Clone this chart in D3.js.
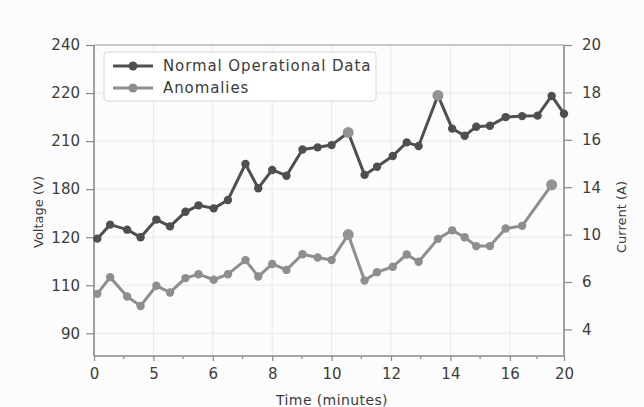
<!DOCTYPE html>
<html><head><meta charset="utf-8">
<script src="https://cdn.jsdelivr.net/npm/d3@7"></script>
<style>
html,body{margin:0;padding:0;background:#fcfcfc;}
svg{display:block;font-family:"DejaVu Sans",sans-serif;}
</style></head>
<body><svg id="c" width="644" height="407"></svg>
<script>
// ---- data ----
const xTickLabels = [0,5,6,8,10,12,14,16,20];
const voltTickLabels = [90,110,120,180,210,220,240];
const currTickLabels = [4,6,10,14,16,18,20];

const timeNormal = [0.28,1.36,2.79,3.92,5.05,5.28,5.54,5.76,6.03,6.51,7.10,7.53,8.00,8.48,9.02,9.53,10.00,10.56,11.11,11.53,12.06,12.53,12.93,13.58,14.06,14.48,14.87,15.33,15.86,16.91,18.05,19.09,20.00];
const voltage    = [119.7,135.7,129.4,120.0,142.0,133.5,151.7,159.8,156.0,166.5,195.7,180.6,192.0,188.4,204.8,206.1,207.5,211.8,188.9,194.0,200.7,209.2,206.9,219.5,212.6,211.1,213.0,213.2,215.0,215.2,215.3,219.4,215.7];

const timeAnom = [0.28,1.36,2.79,3.92,5.05,5.28,5.54,5.76,6.03,6.51,7.10,7.53,8.00,8.48,9.02,9.53,10.00,10.56,11.11,11.53,12.06,12.53,12.93,13.58,14.06,14.48,14.87,15.33,15.86,16.91,19.09];
const current  = [5.50,6.41,5.39,4.99,5.84,5.56,6.33,6.66,6.19,6.66,7.85,6.46,7.52,7.02,8.34,8.07,7.85,10.00,6.13,6.83,7.29,8.32,7.71,9.64,10.36,9.78,9.03,9.03,10.51,10.74,14.10];

const highlightNormal = [10.56, 13.58];
const highlightAnom = [10.56, 19.09];

const seriesNames = ["Normal Operational Data","Anomalies"];

// ---- layout ----
const L = 94, R = 564, T = 45, B = 356;
const yLeftBottomTick = 333.3, yRightBottomTick = 329.4;
const darkC = "#4f4f4f", greyC = "#8e8e8e", hiC = "#939393";

const svg = d3.select("#c");

const xStep = 59.4;
const x = d3.scaleLinear().domain(xTickLabels)
  .range(xTickLabels.map((d,i)=> i < xTickLabels.length-1 ? L + i*xStep : R));
const yL = d3.scaleLinear().domain(voltTickLabels)
  .range(voltTickLabels.map((d,i)=> yLeftBottomTick - i*(yLeftBottomTick-T)/(voltTickLabels.length-1)));
const yR = d3.scaleLinear().domain(currTickLabels)
  .range(currTickLabels.map((d,i)=> yRightBottomTick - i*(yRightBottomTick-T)/(currTickLabels.length-1)));

// gridlines
const grid = svg.append("g").attr("stroke","#e9e9e9").attr("stroke-width",1);
xTickLabels.slice(1,-1).forEach(t=>{
  grid.append("line").attr("x1",x(t)).attr("x2",x(t)).attr("y1",T).attr("y2",B);
});
voltTickLabels.forEach(t=>{
  grid.append("line").attr("x1",L).attr("x2",R).attr("y1",yL(t)).attr("y2",yL(t));
});

// frame top
svg.append("line").attr("x1",L).attr("x2",R).attr("y1",T).attr("y2",T)
  .attr("stroke","#a0a0a0").attr("stroke-width",1.2);

const axisColor = "#8a8a8a";
const textColor = "#3c3c3c";

// left axis
const gL = svg.append("g").attr("transform",`translate(${L},0)`)
  .call(d3.axisLeft(yL).tickValues(voltTickLabels).tickSize(8).tickPadding(6).tickSizeOuter(0));
// bottom axis
const gB = svg.append("g").attr("transform",`translate(0,${B})`)
  .call(d3.axisBottom(x).tickValues(xTickLabels).tickSize(5).tickPadding(7).tickSizeOuter(0));
// minor ticks bottom
const minor = [];
for(let i=0;i<xTickLabels.length-1;i++) minor.push((x(xTickLabels[i])+x(xTickLabels[i+1]))/2);
svg.append("g").selectAll("line").data(minor).join("line")
  .attr("x1",d=>d).attr("x2",d=>d).attr("y1",B).attr("y2",B+3)
  .attr("stroke",axisColor).attr("stroke-width",1.2);
// right axis
const gR = svg.append("g").attr("transform",`translate(${R},0)`)
  .call(d3.axisRight(yR).tickValues(currTickLabels).tickSize(8).tickPadding(10).tickSizeOuter(0));

[gL,gB,gR].forEach(g=>{
  g.select(".domain").attr("stroke",axisColor).attr("stroke-width",1.6);
  g.selectAll(".tick line").attr("stroke",axisColor).attr("stroke-width",1.2);
  g.selectAll(".tick text").attr("fill",textColor).style("font-size","15px")
   .style("font-family","'DejaVu Sans',sans-serif");
});
// extend vertical domains to bottom/top
gL.select(".domain").attr("d",`M0,${T}V${B}`);
gR.select(".domain").attr("d",`M0,${T}V${B}`);
gB.select(".domain").attr("d",`M${L},0H${R}`);

// axis titles
svg.append("text").attr("x",332).attr("y",405).attr("text-anchor","middle")
  .attr("fill",textColor).style("font-size","14px").style("letter-spacing","0.4px").text("Time (minutes)");
svg.append("text").attr("transform","translate(43,212) rotate(-90)").attr("text-anchor","middle")
  .attr("fill",textColor).style("font-size","13px").text("Voltage (V)");
svg.append("text").attr("transform","translate(626,217) rotate(-90)").attr("text-anchor","middle")
  .attr("fill",textColor).style("font-size","13px").text("Current (A)");

// lines
const normal = timeNormal.map((t,i)=>({t, v:voltage[i]}));
const anom = timeAnom.map((t,i)=>({t, v:current[i]}));

svg.append("path").datum(anom)
  .attr("d", d3.line().x(d=>x(d.t)).y(d=>yR(d.v)))
  .attr("fill","none").attr("stroke",greyC).attr("stroke-width",3).attr("stroke-linejoin","round");
svg.append("g").selectAll("circle").data(anom).join("circle")
  .attr("cx",d=>x(d.t)).attr("cy",d=>yR(d.v))
  .attr("r",d=>highlightAnom.includes(d.t)?5.5:4.2)
  .attr("fill",d=>highlightAnom.includes(d.t)?hiC:greyC);

svg.append("path").datum(normal)
  .attr("d", d3.line().x(d=>x(d.t)).y(d=>yL(d.v)))
  .attr("fill","none").attr("stroke",darkC).attr("stroke-width",3).attr("stroke-linejoin","round");
svg.append("g").selectAll("circle").data(normal).join("circle")
  .attr("cx",d=>x(d.t)).attr("cy",d=>yL(d.v))
  .attr("r",d=>highlightNormal.includes(d.t)?5.5:4.2)
  .attr("fill",d=>highlightNormal.includes(d.t)?hiC:darkC);

// legend
const lg = svg.append("g");
lg.append("rect").attr("x",104).attr("y",52).attr("width",272).attr("height",49).attr("rx",3)
  .attr("fill","#ffffff").attr("stroke","#d6d6d6").attr("stroke-width",1);
[darkC, greyC].forEach((c,i)=>{
  const yy = 66 + i*22;
  lg.append("line").attr("x1",113).attr("x2",153).attr("y1",yy).attr("y2",yy)
    .attr("stroke",c).attr("stroke-width",3);
  lg.append("circle").attr("cx",133).attr("cy",yy).attr("r",4.5).attr("fill",c);
  lg.append("text").attr("x",163).attr("y",yy).attr("dy","0.35em")
    .attr("fill",textColor).style("font-size","15px").style("letter-spacing","0.9px")
    .text(seriesNames[i]);
});
</script></body></html>
